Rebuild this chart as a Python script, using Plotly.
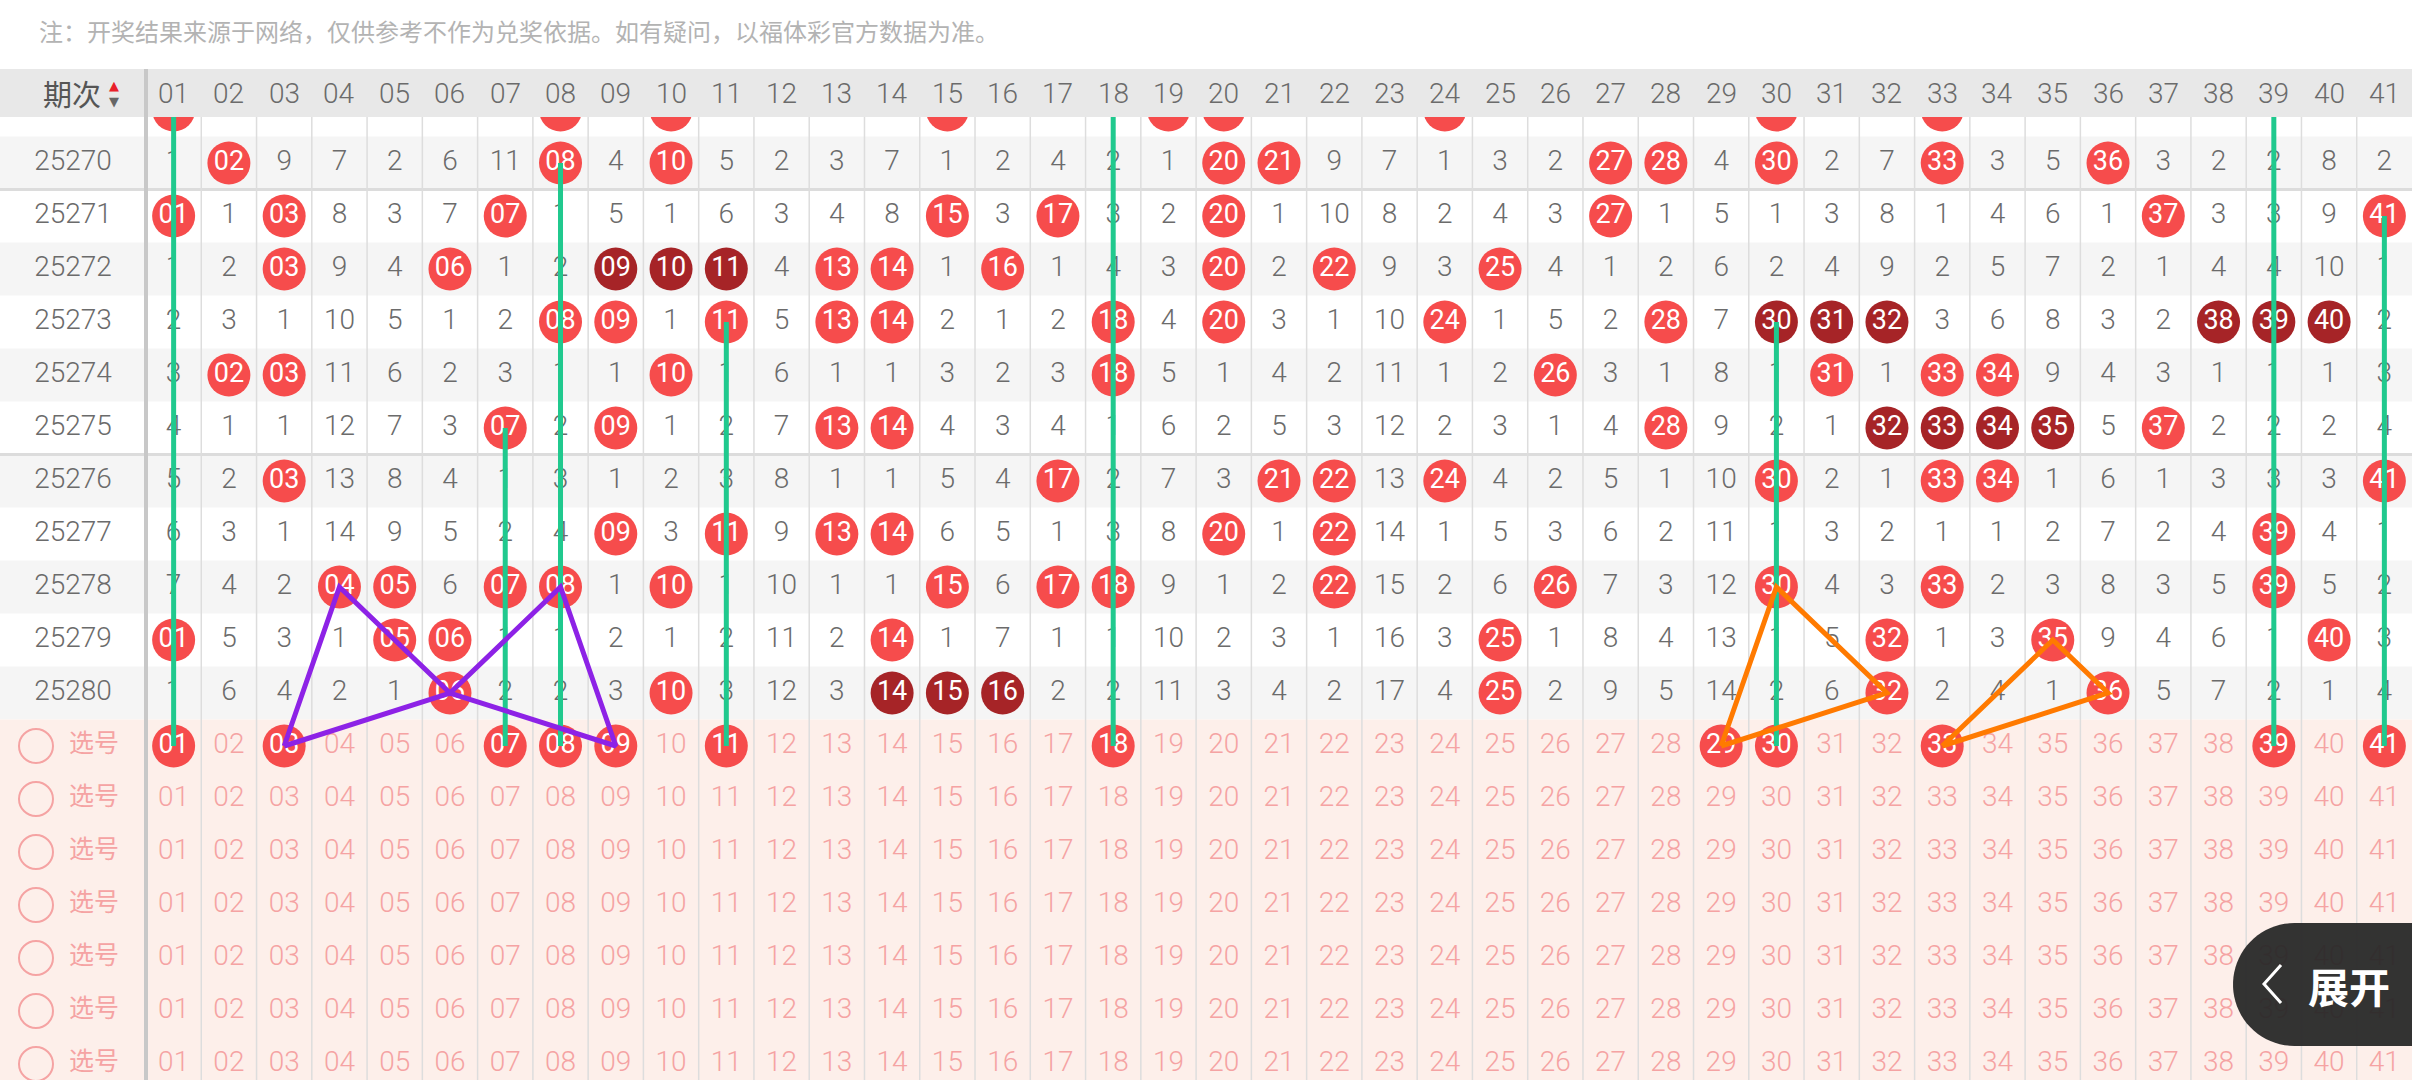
import numpy as np
import plotly.graph_objects as go

# ---------------- data ----------------
numbers = list(range(1, 42))
num_labels = [f"{n:02d}" for n in numbers]
periods = [25269, 25270, 25271, 25272, 25273, 25274, 25275, 25276, 25277, 25278, 25279, 25280]

# omission values per period (0 = drawn that period)
miss_25269 = [0,4,8,6,1,5,10,0,3,0,4,1,2,6,0,1,3,1,0,0,2,8,6,0,2,1,4,6,3,0,1,6,0,2,4,4,2,1,1,7,1]
miss_25270 = [1,0,9,7,2,6,11,0,4,0,5,2,3,7,1,2,4,2,1,0,0,9,7,1,3,2,0,0,4,0,2,7,0,3,5,0,3,2,2,8,2]
miss_25271 = [0,1,0,8,3,7,0,1,5,1,6,3,4,8,0,3,0,3,2,0,1,10,8,2,4,3,0,1,5,1,3,8,1,4,6,1,0,3,3,9,0]
miss_25272 = [1,2,0,9,4,0,1,2,0,0,0,4,0,0,1,0,1,4,3,0,2,0,9,3,0,4,1,2,6,2,4,9,2,5,7,2,1,4,4,10,1]
miss_25273 = [2,3,1,10,5,1,2,0,0,1,0,5,0,0,2,1,2,0,4,0,3,1,10,0,1,5,2,0,7,0,0,0,3,6,8,3,2,0,0,0,2]
miss_25274 = [3,0,0,11,6,2,3,1,1,0,1,6,1,1,3,2,3,0,5,1,4,2,11,1,2,0,3,1,8,1,0,1,0,0,9,4,3,1,1,1,3]
miss_25275 = [4,1,1,12,7,3,0,2,0,1,2,7,0,0,4,3,4,1,6,2,5,3,12,2,3,1,4,0,9,2,1,0,0,0,0,5,0,2,2,2,4]
miss_25276 = [5,2,0,13,8,4,1,3,1,2,3,8,1,1,5,4,0,2,7,3,0,0,13,0,4,2,5,1,10,0,2,1,0,0,1,6,1,3,3,3,0]
miss_25277 = [6,3,1,14,9,5,2,4,0,3,0,9,0,0,6,5,1,3,8,0,1,0,14,1,5,3,6,2,11,1,3,2,1,1,2,7,2,4,0,4,1]
miss_25278 = [7,4,2,0,0,6,0,0,1,0,1,10,1,1,0,6,0,0,9,1,2,0,15,2,6,0,7,3,12,0,4,3,0,2,3,8,3,5,0,5,2]
miss_25279 = [0,5,3,1,0,0,1,1,2,1,2,11,2,0,1,7,1,1,10,2,3,1,16,3,0,1,8,4,13,1,5,0,1,3,0,9,4,6,1,0,3]
miss_25280 = [1,6,4,2,1,0,2,2,3,0,3,12,3,0,0,0,2,2,11,3,4,2,17,4,0,2,9,5,14,2,6,0,2,4,1,0,5,7,2,1,4]

selected = [1, 3, 7, 8, 9, 11, 18, 29, 30, 33, 39, 41]
n_select_rows = 7

# green repeat lines: number -> period of the starting ball
green_nums = [1, 7, 8, 11, 18, 30, 39, 41]
green_from = [25269, 25275, 25270, 25273, 25268, 25273, 25268, 25271]

# purple closed path
purple_nums = [3, 4, 6, 8, 9, 6, 3]
purple_rows = ["sel", 25278, 25280, 25278, "sel", 25280, "sel"]
# orange triangles
orange1_nums = [29, 30, 32, 29]
orange1_rows = ["sel", 25278, 25280, "sel"]
orange2_nums = [33, 35, 36, 33]
orange2_rows = ["sel", 25279, 25280, "sel"]

note_text = "注：开奖结果来源于网络，仅供参考不作为兑奖依据。如有疑问，以福体彩官方数据为准。"

miss_rows = [miss_25269, miss_25270, miss_25271, miss_25272, miss_25273, miss_25274,
             miss_25275, miss_25276, miss_25277, miss_25278, miss_25279, miss_25280]

# ---------------- geometry / style ----------------
W, H = 2412, 1080
LEFT_W = 146
HEADER_TOP, HEADER_BOT = 69, 117
ROW_H = 53.0
ROW0_Y = 110.0
CW = (W - LEFT_W) / 41.0
X0 = 0.5 - LEFT_W / CW
X1 = 41.5
Y_TOP = -ROW0_Y / ROW_H
Y_BOT = (H - ROW0_Y) / ROW_H

FONT_NUM = "Roboto, 'DejaVu Sans', sans-serif"
FONT_CJK = "'Noto Sans CJK SC', 'Noto Sans', sans-serif"
RED = "#f64c4c"
DARK = "#a62427"
GRAY_TXT = "#6b6b6b"
PINK_TXT = "#f5a3a3"
PINK_BG = "#fdefea"
GREEN = "#20c98e"
PURPLE = "#8d22e6"
ORANGE = "#ff7a00"
BALL = 43

def px_x(px):
    return X0 + px / CW

def px_y(py):
    return (py - ROW0_Y) / ROW_H

def paper_x(px):
    return px / W

def paper_y(py):
    return 1 - py / H

SEL_R = len(periods)

def row_of(p):
    if p == "sel":
        return SEL_R
    return p - periods[0]

def dark_set(drawn):
    s = set(drawn)
    out = set()
    for n in drawn:
        run = [n]
        k = n + 1
        while k in s:
            run.append(k)
            k += 1
        if n - 1 not in s and len(run) >= 3:
            out.update(run)
    return out

# ---------------- build marks ----------------
gx, gy, gt = [], [], []
rx, ry, rt = [], [], []
dx, dy, dt = [], [], []
for r, (p, miss) in enumerate(zip(periods, miss_rows)):
    drawn = [n for n, m in zip(numbers, miss) if m == 0]
    dk = dark_set(drawn)
    for n, m in zip(numbers, miss):
        if m == 0:
            if n in dk:
                dx.append(n); dy.append(r); dt.append(f"{n:02d}")
            else:
                rx.append(n); ry.append(r); rt.append(f"{n:02d}")
        else:
            gx.append(n); gy.append(r); gt.append(str(m))

# selection rows
px_, py_, pt_ = [], [], []
sx, sy, st = [], [], []
for k in range(n_select_rows):
    r = SEL_R + k
    for n, lab in zip(numbers, num_labels):
        if k == 0 and n in selected:
            sx.append(n); sy.append(r); st.append(lab)
        else:
            px_.append(n); py_.append(r); pt_.append(lab)

fig = go.Figure()

common = dict(hoverinfo="skip", showlegend=False, cliponaxis=False)

fig.add_trace(go.Scatter(x=gx, y=gy, text=gt, mode="text",
                         textfont=dict(family=FONT_NUM, size=28, color=GRAY_TXT, weight=300), **common))
fig.add_trace(go.Scatter(x=rx, y=ry, text=rt, mode="markers+text",
                         marker=dict(size=BALL, color=RED, line=dict(width=0)),
                         textfont=dict(family=FONT_NUM, size=27, color="white"), **common))
fig.add_trace(go.Scatter(x=dx, y=dy, text=dt, mode="markers+text",
                         marker=dict(size=BALL, color=DARK, line=dict(width=0)),
                         textfont=dict(family=FONT_NUM, size=27, color="white"), **common))
fig.add_trace(go.Scatter(x=px_, y=py_, text=pt_, mode="text",
                         textfont=dict(family=FONT_NUM, size=28, color=PINK_TXT, weight=300), **common))
fig.add_trace(go.Scatter(x=sx, y=sy, text=st, mode="markers+text",
                         marker=dict(size=BALL, color=RED, line=dict(width=0)),
                         textfont=dict(family=FONT_NUM, size=27, color="white"), **common))

# period labels
left_c = px_x(LEFT_W / 2)
fig.add_trace(go.Scatter(x=[left_c] * len(periods), y=list(range(len(periods))),
                         text=[str(p) for p in periods], mode="text",
                         textfont=dict(family=FONT_NUM, size=28, color=GRAY_TXT, weight=300), **common))
# 选号 labels
sel_rows = [SEL_R + k for k in range(n_select_rows)]
fig.add_trace(go.Scatter(x=[px_x(36)] * n_select_rows, y=sel_rows, mode="markers",
                         marker=dict(size=34, symbol="circle-open", color=PINK_TXT,
                                     line=dict(width=2, color=PINK_TXT)), **common))
fig.add_trace(go.Scatter(x=[px_x(94)] * n_select_rows, y=sel_rows, text=["选号"] * n_select_rows,
                         mode="text", textfont=dict(family=FONT_CJK, size=25, color=PINK_TXT), **common))

# green lines
glx, gly = [], []
for n, p in zip(green_nums, green_from):
    r0 = max(row_of(p), -0.5)
    glx += [n, n, None]
    gly += [r0, SEL_R, None]
fig.add_trace(go.Scatter(x=glx, y=gly, mode="lines", line=dict(color=GREEN, width=5), **common))

fig.add_trace(go.Scatter(x=purple_nums, y=[row_of(p) for p in purple_rows], mode="lines",
                         line=dict(color=PURPLE, width=5), **common))
fig.add_trace(go.Scatter(x=orange1_nums + [None] + orange2_nums,
                         y=[row_of(p) for p in orange1_rows] + [None] + [row_of(p) for p in orange2_rows],
                         mode="lines", line=dict(color=ORANGE, width=5, ), **common))

# ---------------- shapes ----------------
shapes = []
for r in range(len(periods)):
    if r % 2 == 1:
        shapes.append(dict(type="rect", xref="paper", yref="y", x0=0, x1=1, y0=r - 0.5, y1=r + 0.5,
                           fillcolor="#f5f5f5", line=dict(width=0), layer="below"))
shapes.append(dict(type="rect", xref="paper", yref="y", x0=0, x1=1, y0=SEL_R - 0.5, y1=Y_BOT + 1,
                   fillcolor=PINK_BG, line=dict(width=0), layer="below"))
for yb in [1.5, 6.5]:
    shapes.append(dict(type="line", xref="paper", yref="y", x0=0, x1=1, y0=yb, y1=yb,
                       line=dict(color="#dcdcdc", width=3), layer="below"))
for n in numbers[:-1]:
    shapes.append(dict(type="line", xref="x", yref="paper", x0=n + 0.5, x1=n + 0.5,
                       y0=0, y1=paper_y(HEADER_BOT), line=dict(color="#dddddd", width=1.5), layer="below"))
# header band (covers the partially hidden first row)
shapes.append(dict(type="rect", xref="paper", yref="paper", x0=0, x1=1,
                   y0=paper_y(HEADER_BOT), y1=paper_y(HEADER_TOP),
                   fillcolor="#e8e8e8", line=dict(width=0), layer="above"))
# white strip above header
shapes.append(dict(type="rect", xref="paper", yref="paper", x0=0, x1=1,
                   y0=paper_y(HEADER_TOP), y1=1, fillcolor="white", line=dict(width=0), layer="above"))
# thick separator after period column
shapes.append(dict(type="line", xref="x", yref="paper", x0=0.5, x1=0.5,
                   y0=0, y1=paper_y(HEADER_TOP), line=dict(color="#c8c8c8", width=4), layer="above"))

# "展开" button
bx0, bx1, by0, by1 = 2233, 2420, 923, 1046
R = (by1 - by0) / 2
cx, cy = bx0 + R, by0 + R
ang = np.linspace(np.pi / 2, 3 * np.pi / 2, 40)
pts = [(bx1, by0), (cx, by0)]
pts += [(cx + R * np.cos(a), cy - R * np.sin(a)) for a in ang]
pts += [(cx, by1), (bx1, by1)]
path = "M " + " L ".join(f"{paper_x(x):.5f},{paper_y(y):.5f}" for x, y in pts) + " Z"
shapes.append(dict(type="path", xref="paper", yref="paper", path=path,
                   fillcolor="rgba(40,40,40,0.95)", line=dict(width=0), layer="above"))
chev = [(2281, 965), (2264, 984), (2281, 1003)]
shapes.append(dict(type="path", xref="paper", yref="paper",
                   path="M " + " L ".join(f"{paper_x(x):.5f},{paper_y(y):.5f}" for x, y in chev),
                   line=dict(color="white", width=3), layer="above"))

# ---------------- annotations ----------------
ann = []
for n, lab in zip(numbers, num_labels):
    ann.append(dict(x=n, y=paper_y(93), xref="x", yref="paper", text=lab, showarrow=False,
                    font=dict(family=FONT_NUM, size=28, color=GRAY_TXT, weight=300),
                    xanchor="center", yanchor="middle"))
ann.append(dict(x=paper_x(72), y=paper_y(93), xref="paper", yref="paper", text="期次", showarrow=False,
                font=dict(family=FONT_CJK, size=29, color="#555555"), xanchor="center", yanchor="middle"))
ann.append(dict(x=paper_x(114), y=paper_y(86), xref="paper", yref="paper", text="▲", showarrow=False,
                font=dict(family="DejaVu Sans", size=13, color="#e8202a"), xanchor="center", yanchor="middle"))
ann.append(dict(x=paper_x(114), y=paper_y(101), xref="paper", yref="paper", text="▼", showarrow=False,
                font=dict(family="DejaVu Sans", size=13, color="#666666"), xanchor="center", yanchor="middle"))
ann.append(dict(x=paper_x(37), y=paper_y(31), xref="paper", yref="paper", text=note_text, showarrow=False,
                font=dict(family=FONT_CJK, size=24, color="#b3b3b3"), xanchor="left", yanchor="middle"))
ann.append(dict(x=paper_x(2349), y=paper_y(985), xref="paper", yref="paper", text="<b>展开</b>", showarrow=False,
                font=dict(family=FONT_CJK, size=41, color="white"), xanchor="center", yanchor="middle"))

fig.update_layout(
    width=W, height=H,
    margin=dict(l=0, r=0, t=0, b=0),
    paper_bgcolor="white", plot_bgcolor="white",
    xaxis=dict(range=[X0, X1], visible=False, fixedrange=True),
    yaxis=dict(range=[Y_BOT, Y_TOP], visible=False, fixedrange=True),
    shapes=shapes, annotations=ann,
    showlegend=False,
)

fig.write_html("out.html", config={"displayModeBar": False, "staticPlot": True},
               post_script="document.body.style.margin='0';document.body.style.overflow='hidden';")
